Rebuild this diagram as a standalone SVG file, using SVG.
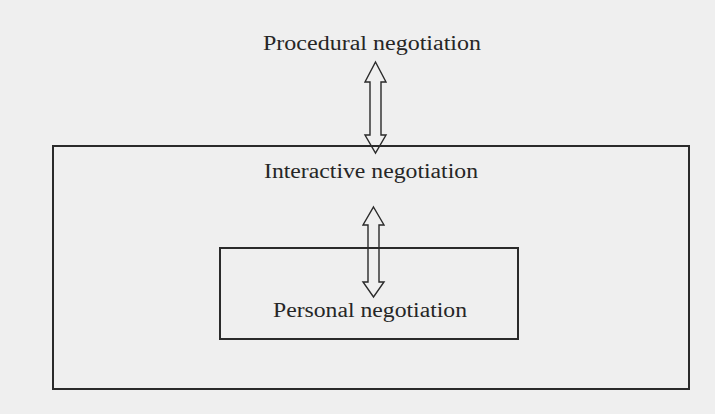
<svg xmlns="http://www.w3.org/2000/svg" width="715" height="414" viewBox="0 0 715 414">
<style>
.box{fill:none;stroke:#2a2a2a;stroke-width:2}
.lbl{font-family:"Liberation Serif","Times New Roman",serif;font-size:20px;fill:#262626}
.arr{fill:none;stroke:#2a2a2a;stroke-width:1.4;stroke-linejoin:miter}
</style>
<rect x="0" y="0" width="715" height="414" fill="#efefef"/>
<g id="interactive">
<rect class="box" x="53" y="146" width="636" height="243"/>
<text class="lbl" x="264" y="178" textLength="214" lengthAdjust="spacingAndGlyphs">Interactive negotiation</text>
</g>
<g id="personal">
<rect class="box" x="220" y="248" width="298" height="91" fill="#efefef"/>
<text class="lbl" x="273" y="317" textLength="194" lengthAdjust="spacingAndGlyphs">Personal negotiation</text>
</g>
<g id="procedural">
<text class="lbl" x="263" y="50" textLength="218" lengthAdjust="spacingAndGlyphs">Procedural negotiation</text>
</g>
<g id="connectors">
<path class="arr" d="M375.5,62 L386,82 L381,82 L381,135 L386,135 L375.5,153 L365,135 L370,135 L370,82 L365,82 Z"/>
<path class="arr" d="M373.5,207 L384,225 L379,225 L379,282 L384,282 L373.5,297 L363,282 L368,282 L368,225 L363,225 Z"/>
</g>
</svg>
